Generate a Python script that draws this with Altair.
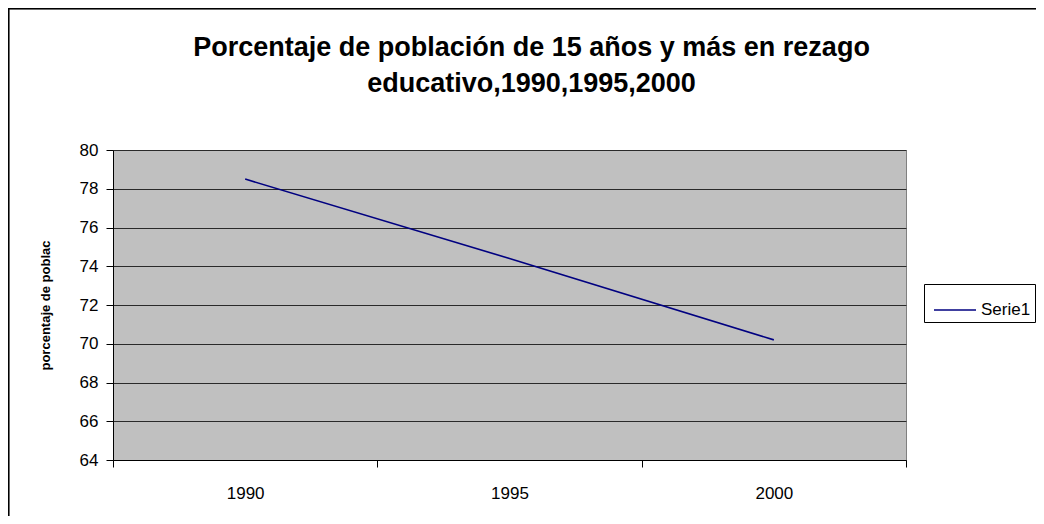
import altair as alt
import pandas as pd

years = ["1990", "1995", "2000"]
values = [78.5, 74.4, 70.2]
series = ["Serie1", "Serie1", "Serie1"]

df = pd.DataFrame({"year": years, "value": values, "serie": series})

W, H = 793, 310

line = alt.Chart(df).mark_line(color="#000080", strokeWidth=1.6).encode(
    x=alt.X("year:N", bandPosition=0.5,
            scale=alt.Scale(type="band", paddingInner=0, paddingOuter=0),
            axis=alt.Axis(title=None, labelAngle=0, tickBand="extent", grid=False,
                          domainColor="#000000", tickColor="#000000", tickSize=7,
                          labelPadding=18, labelFontSize=17, labelColor="#000000",
                          labelFont="Liberation Sans")),
    y=alt.Y("value:Q", scale=alt.Scale(domain=[64, 80], nice=False, zero=False),
            axis=alt.Axis(values=list(range(64, 81, 2)), title="porcentaje de poblac",
                          titleFontSize=13, titleFont="Liberation Sans", titleFontWeight="bold",
                          titleColor="#000000", titleX=-68, titleY=H / 2, titleAngle=270,
                          titleAlign="center", titleBaseline="middle",
                          grid=True, gridColor="#2a2a2a", gridWidth=1,
                          domainColor="#000000", tickColor="#000000", tickSize=7,
                          labelPadding=8, labelFontSize=17, labelColor="#000000",
                          labelFont="Liberation Sans")),
    stroke=alt.Stroke("serie:N", scale=alt.Scale(range=["#000080"]),
                      legend=alt.Legend(title=None, orient="none", legendX=811, legendY=134,
                                        symbolType="M-1,0L1,0", symbolSize=1764,
                                        symbolStrokeWidth=1.6, symbolOffset=5,
                                        labelFontSize=17, labelFont="Liberation Sans",
                                        labelColor="#000000", strokeColor="#000000",
                                        padding=4, labelOffset=4)),
)

frame = alt.Chart(df).mark_rect(fill=None, stroke="#000000", strokeWidth=1.5, clip=False).encode(
    x=alt.value(-104.5), x2=alt.value(960), y=alt.value(-141.5), y2=alt.value(420)
)

chart = alt.layer(frame, line).properties(
    width=W, height=H,
    autosize=alt.AutoSizeParams(type="none"),
    padding={"left": 105, "top": 142, "right": 130, "bottom": 56},
    title=alt.TitleParams(
        text=["Porcentaje de población de 15 años y más en rezago", "educativo,1990,1995,2000"],
        font="Liberation Sans", fontSize=27, fontWeight="bold", color="#000000",
        anchor="middle", lineHeight=36, offset=-90, dx=22,
    ),
).configure(background="#FFFFFF").configure_view(fill="#C0C0C0", stroke="#808080", strokeWidth=1)

chart.save("out.html", embed_options={"renderer": "svg", "actions": False})
